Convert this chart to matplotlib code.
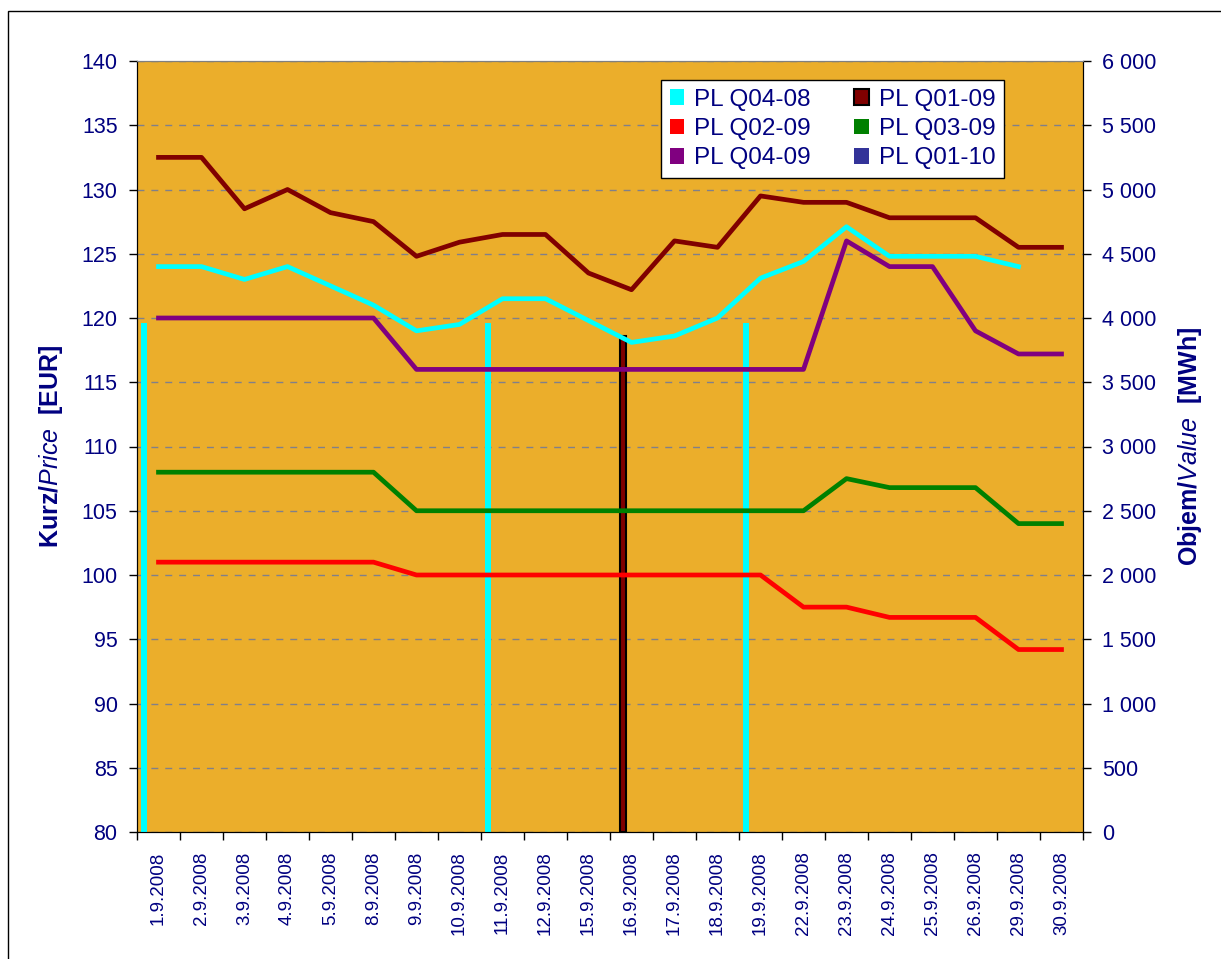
import numpy as np
import matplotlib
matplotlib.use("Agg")
import matplotlib.pyplot as plt
from matplotlib.patches import Patch, Rectangle
from matplotlib.ticker import FuncFormatter, MultipleLocator, FixedLocator

plt.rcParams['font.family'] = ['Liberation Sans', 'DejaVu Sans']
plt.rcParams['mathtext.fontset'] = 'custom'
plt.rcParams['mathtext.rm'] = 'Liberation Sans'
plt.rcParams['mathtext.it'] = 'Liberation Sans:italic'
plt.rcParams['mathtext.bf'] = 'Liberation Sans:bold'

# trading days
dates = ['1.9.2008', '2.9.2008', '3.9.2008', '4.9.2008', '5.9.2008', '8.9.2008',
         '9.9.2008', '10.9.2008', '11.9.2008', '12.9.2008', '15.9.2008', '16.9.2008',
         '17.9.2008', '18.9.2008', '19.9.2008', '22.9.2008', '23.9.2008', '24.9.2008',
         '25.9.2008', '26.9.2008', '29.9.2008', '30.9.2008']

# prices [EUR]
q04_08 = [124, 124, 123, 124, 122.5, 121, 119, 119.5, 121.5, 121.5, 119.8, 118.1,
          118.6, 120, 123.1, 124.4, 127.1, 124.8, 124.8, 124.8, 124, np.nan]
q01_09 = [132.5, 132.5, 128.5, 130, 128.2, 127.5, 124.8, 125.9, 126.5, 126.5, 123.5, 122.2,
          126, 125.5, 129.5, 129, 129, 127.8, 127.8, 127.8, 125.5, 125.5]
q02_09 = [101, 101, 101, 101, 101, 101, 100, 100, 100, 100, 100, 100,
          100, 100, 100, 97.5, 97.5, 96.7, 96.7, 96.7, 94.2, 94.2]
q03_09 = [108, 108, 108, 108, 108, 108, 105, 105, 105, 105, 105, 105,
          105, 105, 105, 105, 107.5, 106.8, 106.8, 106.8, 104, 104]
q04_09 = [120, 120, 120, 120, 120, 120, 116, 116, 116, 116, 116, 116,
          116, 116, 116, 116, 126, 124, 124, 119, 117.2, 117.2]

# volumes [MWh]
vol_q04_08 = [3960, 0, 0, 0, 0, 0, 0, 0, 3960, 0, 0, 0, 0, 0, 3960, 0, 0, 0, 0, 0, 0, 0]
vol_q01_09 = [0, 0, 0, 0, 0, 0, 0, 0, 0, 0, 0, 3860, 0, 0, 0, 0, 0, 0, 0, 0, 0, 0]

navy = '#000080'
orange = '#EBAE2B'

fig = plt.figure(figsize=(12.21, 9.59), dpi=100)
ax2 = fig.add_axes([137 / 1221, 1 - 832 / 959, (1083 - 137) / 1221, (832 - 61) / 959])
ax = ax2.twinx()
# left price axis drawn over the volume bars
ax.yaxis.tick_left()
ax.yaxis.set_label_position('left')
ax2.yaxis.tick_right()
ax2.yaxis.set_label_position('right')
ax.set_zorder(ax2.get_zorder() + 1)
ax.patch.set_visible(False)
ax2.set_facecolor(orange)

x = np.arange(len(dates))
w = 1 / 7.5
off0 = -0.5 + 0.75 * w + 0.5 * w   # first bar of a 6-bar cluster

v1 = np.array(vol_q04_08, dtype=float)
v2 = np.array(vol_q01_09, dtype=float)
m1 = v1 > 0
m2 = v2 > 0
ax2.bar(x[m1] + off0, v1[m1], width=w, color='#00FFFF', zorder=3)
ax2.bar(x[m2] + off0 + w, v2[m2], width=w, color='#800000', edgecolor='black',
        linewidth=1.5, zorder=3)
ax2.set_ylim(0, 6000)
ax2.yaxis.set_major_locator(MultipleLocator(500))
ax2.yaxis.set_major_formatter(FuncFormatter(lambda v, p: '{:,.0f}'.format(v).replace(',', ' ')))
ax2.grid(axis='y', color='#80808a', linestyle=(0, (5, 5)), linewidth=1, zorder=0)
ax2.set_axisbelow(True)

lw = 3.4
ax.plot(x, q04_08, color='#00FFFF', lw=lw, solid_joinstyle='round')
ax.plot(x, q01_09, color='#800000', lw=lw, solid_joinstyle='round')
ax.plot(x, q02_09, color='#FF0000', lw=lw, solid_joinstyle='round')
ax.plot(x, q03_09, color='#008000', lw=lw, solid_joinstyle='round')
ax.plot(x, q04_09, color='#800080', lw=lw, solid_joinstyle='round')
ax.set_ylim(80, 140)
ax.yaxis.set_major_locator(MultipleLocator(5))

ax2.set_xlim(-0.5, len(dates) - 0.5)
ax2.set_xticks(x)
ax2.set_xticklabels(dates)
ax2.xaxis.set_minor_locator(FixedLocator(np.arange(-0.5, len(dates), 1)))
ax2.tick_params(axis='x', which='major', length=0, pad=14, labelsize=13.5,
                labelcolor=navy, labelrotation=90)
ax2.tick_params(axis='x', which='minor', length=6, width=1, color='black')

ax.tick_params(axis='y', labelsize=15.5, labelcolor=navy, length=6, width=1, pad=8)
ax2.tick_params(axis='y', labelsize=15.5, labelcolor=navy, length=6, width=1, pad=8)

for a in (ax, ax2):
    a.spines['top'].set_color('#808080')
    a.spines['left'].set_color('black')
    a.spines['right'].set_color('black')
    a.spines['bottom'].set_color('black')

ax.set_ylabel(r'$\mathbf{Kurz/}\mathit{Price}\ \ \mathbf{[EUR]}$', fontsize=18,
              color=navy, labelpad=12)
ax2.set_ylabel(r'$\mathbf{Objem/}\mathit{Value}\ \ \mathbf{[MWh]}$', fontsize=18,
               color=navy, labelpad=14, rotation=90)

handles = [Patch(facecolor='#00FFFF'), Patch(facecolor='#FF0000'),
           Patch(facecolor='#800080'), Patch(facecolor='#800000', edgecolor='black', linewidth=1.5),
           Patch(facecolor='#008000'), Patch(facecolor='#333399')]
labels = ['PL Q04-08', 'PL Q02-09', 'PL Q04-09', 'PL Q01-09', 'PL Q03-09', 'PL Q01-10']
leg = ax.legend(handles, labels, ncol=2, loc='upper left', bbox_to_anchor=(0.554, 0.975),
                fontsize=17.5, frameon=True, fancybox=False, edgecolor='black',
                facecolor='white', framealpha=1,
                handlelength=0.6, handleheight=0.6, handletextpad=0.4,
                columnspacing=1.8, labelspacing=0.3, borderpad=0.35, borderaxespad=0,
                labelcolor=navy)
leg.get_frame().set_linewidth(1)

# outer chart border
fig.patches.append(Rectangle((8 / 1221, -0.1), 1.2, 1 - 11 / 959 + 0.1,
                             transform=fig.transFigure, fill=False,
                             edgecolor='black', linewidth=1))

fig.savefig('out.png', dpi=100)
